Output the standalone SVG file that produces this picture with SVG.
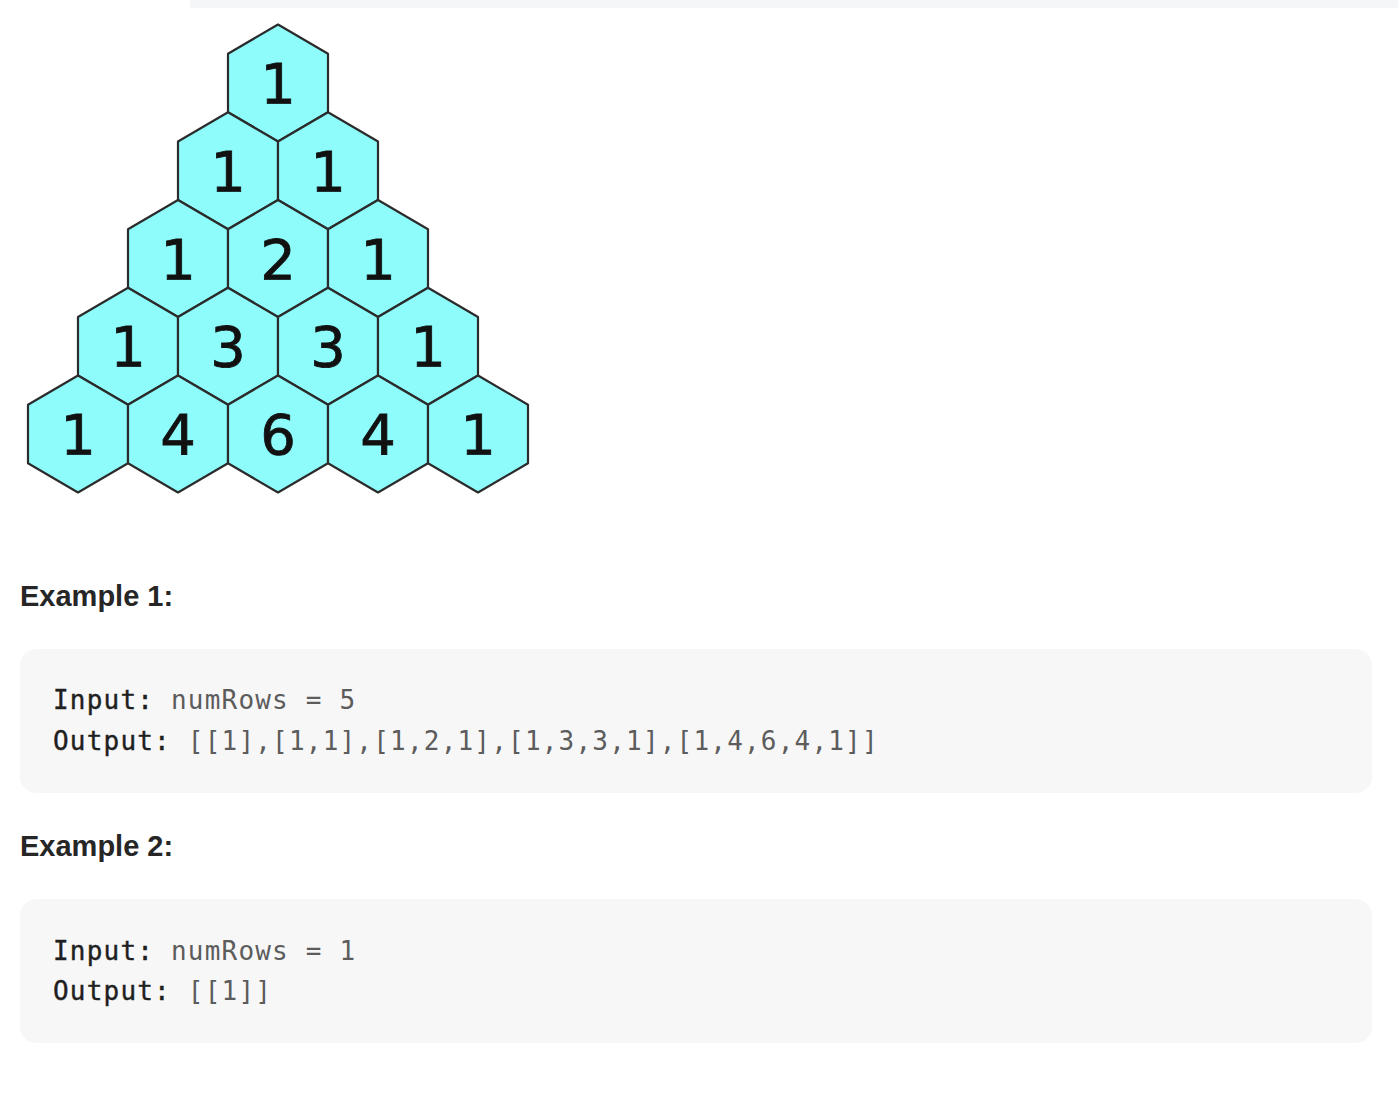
<svg xmlns="http://www.w3.org/2000/svg" width="1398" height="1106" viewBox="0 0 1398 1106">
<style>
.hex{fill:#8ffcfc;stroke:#2b2b2b;stroke-width:2.2;stroke-linejoin:round}
.num{font-family:"DejaVu Sans",Verdana,sans-serif;font-size:56px;fill:#111;text-anchor:middle;stroke:#111;stroke-width:0.8}
.h{font-family:"Liberation Sans",Arial,sans-serif;font-weight:bold;font-size:29px;fill:#262626}
.code{font-family:"DejaVu Sans Mono",Menlo,monospace;font-size:26px;letter-spacing:1.2px;fill:#5c5c5c}
.k{fill:#1f1f1f;stroke:#1f1f1f;stroke-width:0.4}
.box{fill:#f7f7f7}
</style>
<defs>
<polygon id="hx" class="hex" points="0,-58.5 50,-29.25 50,29.25 0,58.5 -50,29.25 -50,-29.25"/>
</defs>
<rect x="190" y="0" width="1208" height="8" fill="#f5f6f8"/>
<g id="triangle">
<g id="r0c0"><use href="#hx" x="278" y="83"/><text class="num" x="278" y="103">1</text></g>
<g id="r1c0"><use href="#hx" x="228" y="170.75"/><text class="num" x="228" y="190.75">1</text></g>
<g id="r1c1"><use href="#hx" x="328" y="170.75"/><text class="num" x="328" y="190.75">1</text></g>
<g id="r2c0"><use href="#hx" x="178" y="258.5"/><text class="num" x="178" y="278.5">1</text></g>
<g id="r2c1"><use href="#hx" x="278" y="258.5"/><text class="num" x="278" y="278.5">2</text></g>
<g id="r2c2"><use href="#hx" x="378" y="258.5"/><text class="num" x="378" y="278.5">1</text></g>
<g id="r3c0"><use href="#hx" x="128" y="346.25"/><text class="num" x="128" y="366.25">1</text></g>
<g id="r3c1"><use href="#hx" x="228" y="346.25"/><text class="num" x="228" y="366.25">3</text></g>
<g id="r3c2"><use href="#hx" x="328" y="346.25"/><text class="num" x="328" y="366.25">3</text></g>
<g id="r3c3"><use href="#hx" x="428" y="346.25"/><text class="num" x="428" y="366.25">1</text></g>
<g id="r4c0"><use href="#hx" x="78" y="434"/><text class="num" x="78" y="454">1</text></g>
<g id="r4c1"><use href="#hx" x="178" y="434"/><text class="num" x="178" y="454">4</text></g>
<g id="r4c2"><use href="#hx" x="278" y="434"/><text class="num" x="278" y="454">6</text></g>
<g id="r4c3"><use href="#hx" x="378" y="434"/><text class="num" x="378" y="454">4</text></g>
<g id="r4c4"><use href="#hx" x="478" y="434"/><text class="num" x="478" y="454">1</text></g>
</g>
<g id="connectors"></g>
<g id="example1">
<text class="h" x="20" y="606">Example 1:</text>
<rect class="box" x="20" y="649" width="1352" height="144" rx="16"/>
<text class="code" x="53" y="709"><tspan class="k">Input:</tspan> numRows = 5</text>
<text class="code" x="53" y="750"><tspan class="k">Output:</tspan> [[1],[1,1],[1,2,1],[1,3,3,1],[1,4,6,4,1]]</text>
</g>
<g id="example2">
<text class="h" x="20" y="856">Example 2:</text>
<rect class="box" x="20" y="899" width="1352" height="144" rx="16"/>
<text class="code" x="53" y="960"><tspan class="k">Input:</tspan> numRows = 1</text>
<text class="code" x="53" y="1000"><tspan class="k">Output:</tspan> [[1]]</text>
</g>
</svg>
